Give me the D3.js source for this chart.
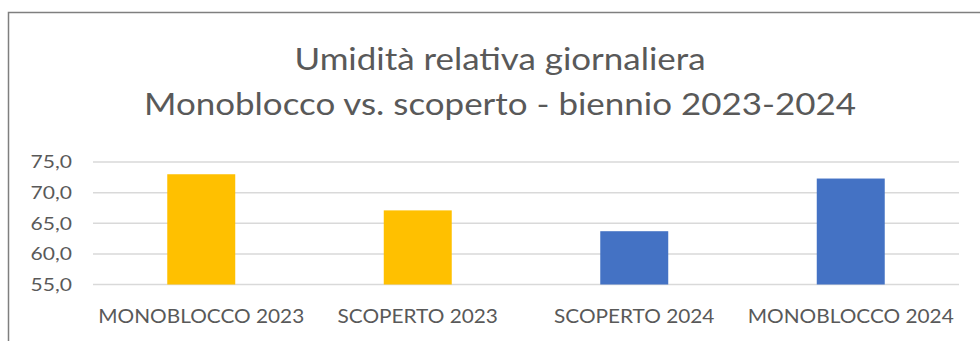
<!DOCTYPE html>
<html>
<head>
<meta charset="utf-8">
<script src="https://cdn.jsdelivr.net/npm/d3@7"></script>
<style>
  html, body { margin: 0; padding: 0; background: #fff; }
  svg { display: block; }
  text { font-family: Lato, "Open Sans", sans-serif; fill: #595959; }
</style>
</head>
<body>
<svg id="chart" width="980" height="341"></svg>
<script>
// Daily relative humidity, monobloc vs. open field, 2023-2024
const categories = ["MONOBLOCCO 2023", "SCOPERTO 2023", "SCOPERTO 2024", "MONOBLOCCO 2024"];
const values = [73.0, 67.1, 63.7, 72.3];
const barColors = ["#FFC000", "#FFC000", "#4472C4", "#4472C4"];
const yTicks = [55, 60, 65, 70, 75];
const titleLines = ["Umidità relativa giornaliera", "Monoblocco vs. scoperto - biennio 2023-2024"];

const svg = d3.select("#chart");
const W = 980, H = 341;
const plot = { left: 93, right: 959, top: 162, bottom: 284.5 };
const FONT = "Lato, 'Open Sans', sans-serif";

// outer frame of the chart area
svg.append("rect")
  .attr("x", 8.5).attr("y", 12.5)
  .attr("width", W + 10).attr("height", H + 10)
  .attr("fill", "#fff")
  .attr("stroke", "#7f7f7f").attr("stroke-width", 1.5);

// title, slightly widened to the Calibri-like proportions
svg.append("g").selectAll("text")
  .data(titleLines)
  .join("text")
  .attr("transform", (d, i) => `translate(500,${i === 0 ? 70 : 115}) scale(1.165,1)`)
  .attr("text-anchor", "middle")
  .style("font-size", "30px")
  .text(d => d);

const x = d3.scaleBand()
  .domain(categories)
  .range([plot.left, plot.right])
  .paddingInner(0.686)
  .paddingOuter(0.343);

const y = d3.scaleLinear()
  .domain([55, 75])
  .range([plot.bottom, plot.top]);

// horizontal gridlines
svg.append("g")
  .selectAll("line")
  .data(yTicks)
  .join("line")
  .attr("x1", plot.left).attr("x2", plot.right)
  .attr("y1", d => y(d)).attr("y2", d => y(d))
  .attr("stroke", "#d9d9d9").attr("stroke-width", 1.5);

// y axis labels
const fmt = d => d3.format(".1f")(d).replace(".", ",");
const yAxis = d3.axisLeft(y).tickValues(yTicks).tickFormat(fmt).tickSize(0).tickPadding(0);
const yg = svg.append("g").attr("transform", `translate(72,0)`).call(yAxis);
yg.select(".domain").remove();
yg.selectAll("text")
  .attr("x", 0)
  .attr("transform", "scale(1.17,1)")
  .style("font-size", "18px")
  .style("font-family", FONT)
  .attr("fill", "#595959");

// bars
svg.append("g")
  .selectAll("rect")
  .data(categories)
  .join("rect")
  .attr("x", d => x(d))
  .attr("width", x.bandwidth())
  .attr("y", (d, i) => y(values[i]))
  .attr("height", (d, i) => y(55) - y(values[i]))
  .attr("fill", (d, i) => barColors[i]);

// category labels
const xAxis = d3.axisBottom(x).tickSize(0).tickPadding(0);
const xg = svg.append("g").attr("transform", `translate(0,323)`).call(xAxis);
xg.select(".domain").remove();
xg.selectAll("text")
  .attr("y", 0).attr("dy", 0)
  .attr("transform", "scale(1.04,1)")
  .style("font-size", "20px")
  .style("font-family", FONT)
  .attr("fill", "#595959");
</script>
</body>
</html>
